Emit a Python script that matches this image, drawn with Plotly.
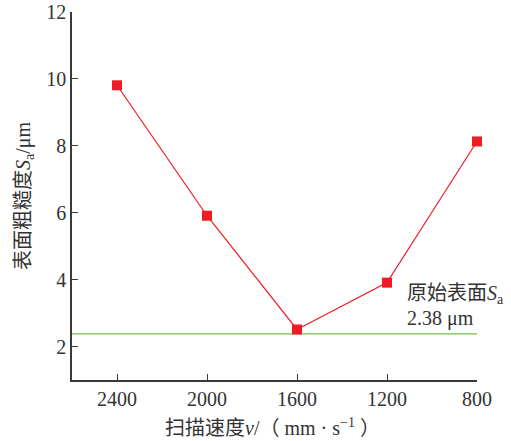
import plotly.graph_objects as go

speeds = ["2400", "2000", "1600", "1200", "800"]
roughness = [9.81, 5.91, 2.51, 3.91, 8.13]
baseline = 2.38
y_ticks = [2, 4, 6, 8, 10, 12]

FONT = "Liberation Serif, Times New Roman, Noto Sans CJK SC, serif"
AX = "#3a3a3a"
TXT = "#333333"

xi = list(range(len(speeds)))

fig = go.Figure()
fig.add_trace(go.Scatter(
    x=[-0.5, len(speeds) - 1], y=[baseline, baseline], mode="lines",
    line=dict(color="#6cbf4a", width=1.2), hoverinfo="skip", showlegend=False))
fig.add_trace(go.Scatter(
    x=xi, y=roughness, mode="lines+markers",
    line=dict(color="#ee1c25", width=1.2),
    marker=dict(symbol="square", size=10, color="#ee1c25"),
    showlegend=False, cliponaxis=False))

fig.add_annotation(x=3.2, y=3.57, xref="x", yref="y",
                   text="原始表面<i>S</i><sub>a</sub>", showarrow=False,
                   xanchor="left", yanchor="middle", align="left",
                   font=dict(family=FONT, size=20, color=TXT))
fig.add_annotation(x=3.2, y=2.84, xref="x", yref="y",
                   text="2.38 μm", showarrow=False,
                   xanchor="left", yanchor="middle", align="left",
                   font=dict(family=FONT, size=20, color=TXT))
# x-axis title
fig.add_annotation(x=0.495, y=-0.128, xref="paper", yref="paper",
                   text="扫描速度<i>v</i>/（ mm · s<sup>−1</sup> ）", showarrow=False,
                   xanchor="center", yanchor="middle", borderpad=0,
                   font=dict(family=FONT, size=20, color=TXT))

fig.update_layout(
    width=511, height=441,
    margin=dict(l=72, r=34, t=12, b=61, autoexpand=False),
    paper_bgcolor="white", plot_bgcolor="white",
    font=dict(family=FONT, size=20, color=TXT),
    xaxis=dict(range=[-0.5, 4], tickvals=xi, ticktext=speeds, automargin=False,
               showline=True, linecolor=AX, linewidth=1.5, mirror=False,
               ticks="inside", ticklen=6, tickcolor=AX, showgrid=False, zeroline=False),
    yaxis=dict(range=[1, 12], tickvals=y_ticks, automargin=False,
               showline=True, linecolor=AX, linewidth=1.5,
               ticks="inside", ticklen=6, tickcolor=AX, showgrid=False, zeroline=False,
               title=dict(text="表面粗糙度<i>S</i><sub>a</sub>/μm", standoff=10,
                          font=dict(size=20))),
)

fig.write_html("out.html", config={"displayModeBar": False},
               post_script="document.body.style.margin='0';document.body.style.overflow='hidden';")
